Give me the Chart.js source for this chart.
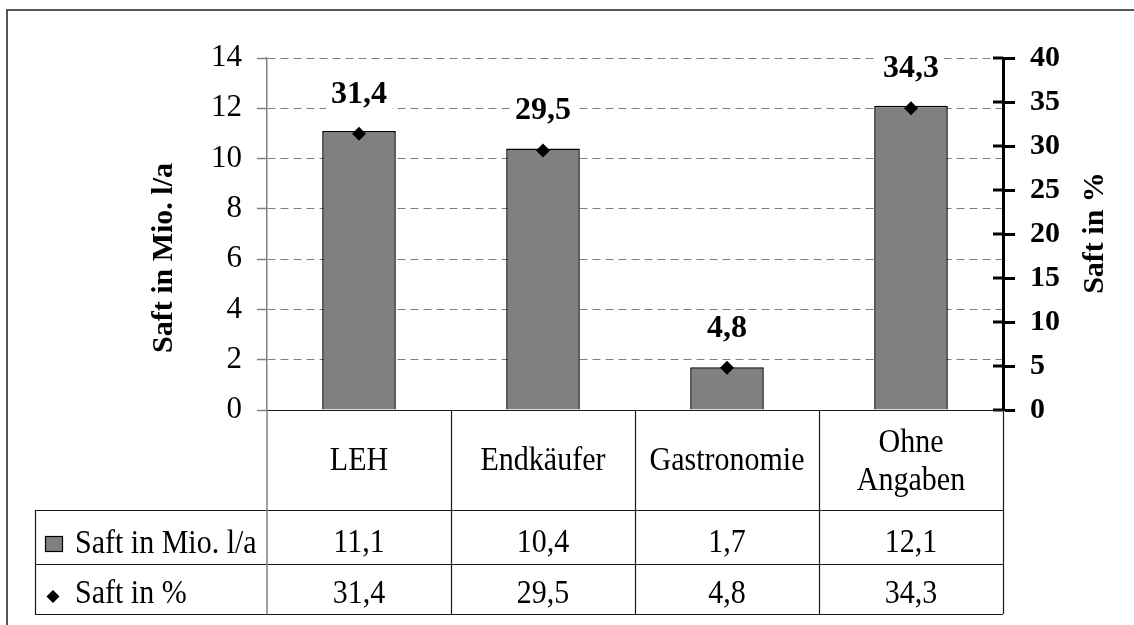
<!DOCTYPE html>
<html><head><meta charset="utf-8">
<script src="https://cdn.jsdelivr.net/npm/chart.js@4.4.1/dist/chart.umd.min.js"></script>
<style>html,body{margin:0;padding:0;background:#fff}canvas{display:block}</style>
</head><body>
<canvas id="c" width="1134" height="625"></canvas>
<script>
const categories = ['LEH', 'Endkäufer', 'Gastronomie', ['Ohne', 'Angaben']];
const volumeValues = [11.1, 10.4, 1.7, 12.1];
const percentValues = [31.4, 29.5, 4.8, 34.3];
const volumeLabels = ['11,1', '10,4', '1,7', '12,1'];
const percentLabels = ['31,4', '29,5', '4,8', '34,3'];
const seriesNames = ['Saft in Mio. l/a', 'Saft in %'];
const leftAxisTitle = 'Saft in Mio. l/a';
const rightAxisTitle = 'Saft in %';
const leftRange = [0, 14, 2];
const rightRange = [0, 40, 5];

const SERIF = '"Liberation Serif", "Times New Roman", serif';
const GRAY = '#808080';

function txt(ctx, s, x, y, font, align, sy) {
  ctx.save();
  ctx.font = font;
  ctx.textAlign = align || 'center';
  ctx.textBaseline = 'alphabetic';
  ctx.fillStyle = '#000';
  ctx.translate(x, y);
  ctx.scale(1, sy || 1);
  ctx.fillText(s, 0, 0);
  ctx.restore();
}

const deco = {
  id: 'deco',
  afterDatasetsDraw(chart) {
    const ctx = chart.ctx;
    const meta = chart.getDatasetMeta(1);
    meta.data.forEach((pt, i) => {
      const s = percentLabels[i];
      ctx.save();
      ctx.font = 'bold 32px ' + SERIF;
      const w = ctx.measureText(s).width;
      ctx.fillStyle = '#fff';
      ctx.fillRect(pt.x - w / 2 - 5, pt.y - 56, w + 10, 32);
      ctx.restore();
      txt(ctx, s, pt.x, pt.y - 31, 'bold 32px ' + SERIF, 'center', 1);
    });
  },
  afterDraw(chart) {
    const ctx = chart.ctx;
    const ca = chart.chartArea;
    const xs = chart.scales.x;
    const y1 = chart.scales.y1;
    const n = categories.length;
    const cw = (ca.right - ca.left) / n;
    const bounds = [ca.left];
    for (let i = 0; i < n; i++) bounds.push(xs.getPixelForValue(i) + cw / 2);
    const hdrBottom = 510, r1Bottom = 564, r2Bottom = 614, legLeft = 35;

    // right axis inner ticks
    ctx.save();
    ctx.strokeStyle = '#000';
    ctx.lineWidth = 3;
    y1.ticks.forEach(t => {
      const yy = Math.round(y1.getPixelForValue(t.value));
      ctx.beginPath();
      ctx.moveTo(ca.right - 10, yy);
      ctx.lineTo(ca.right, yy);
      ctx.stroke();
    });
    ctx.restore();

    // table lines
    ctx.save();
    ctx.lineWidth = 1.2;
    ctx.strokeStyle = '#1a1a1a';
    ctx.beginPath();
    ctx.moveTo(ca.left, ca.bottom + 0.5); ctx.lineTo(ca.right, ca.bottom + 0.5);
    [hdrBottom, r1Bottom, r2Bottom].forEach(yy => {
      ctx.moveTo(legLeft, yy + 0.5); ctx.lineTo(ca.right, yy + 0.5);
    });
    ctx.moveTo(legLeft + 0.5, hdrBottom); ctx.lineTo(legLeft + 0.5, r2Bottom);
    bounds.slice(1).forEach(bx => {
      ctx.moveTo(Math.round(bx) + 0.5, ca.bottom); ctx.lineTo(Math.round(bx) + 0.5, r2Bottom);
    });
    ctx.stroke();
    ctx.strokeStyle = GRAY;
    ctx.lineWidth = 1.5;
    ctx.beginPath();
    ctx.moveTo(ca.left, ca.bottom); ctx.lineTo(ca.left, r2Bottom + 0.5);
    ctx.stroke();
    ctx.restore();

    // table texts
    const nf = '30px ' + SERIF;
    categories.forEach((c, i) => {
      const cx = (bounds[i] + bounds[i + 1]) / 2;
      if (Array.isArray(c)) {
        txt(ctx, c[0], cx, 452, nf, 'center', 1.1);
        txt(ctx, c[1], cx, 490, nf, 'center', 1.1);
      } else {
        txt(ctx, c, cx, 469.5, nf, 'center', 1.1);
      }
      txt(ctx, volumeLabels[i], cx, 552, nf, 'center', 1.1);
      txt(ctx, percentLabels[i], cx, 603, nf, 'center', 1.1);
    });
    // legend keys
    ctx.save();
    ctx.fillStyle = GRAY;
    ctx.strokeStyle = '#000';
    ctx.lineWidth = 1.2;
    ctx.fillRect(45, 536, 18, 16);
    ctx.strokeRect(45.5, 536.5, 17, 15);
    ctx.fillStyle = '#000';
    ctx.beginPath();
    ctx.moveTo(53, 590); ctx.lineTo(59.5, 596.5); ctx.lineTo(53, 603); ctx.lineTo(46.5, 596.5);
    ctx.closePath(); ctx.fill();
    ctx.restore();
    txt(ctx, seriesNames[0], 75, 553, nf, 'left', 1.1);
    txt(ctx, seriesNames[1], 75, 603, nf, 'left', 1.1);

    // axis titles
    const bf = 'bold 30px ' + SERIF;
    ctx.save();
    ctx.translate(172, 258); ctx.rotate(-Math.PI / 2);
    txt(ctx, leftAxisTitle, 0, 0, bf, 'center', 1);
    ctx.restore();
    ctx.save();
    ctx.translate(1103, 233); ctx.rotate(-Math.PI / 2);
    txt(ctx, rightAxisTitle, 0, 0, bf, 'center', 1);
    ctx.restore();

    // outer frame
    ctx.save();
    ctx.strokeStyle = '#222';
    ctx.lineWidth = 1.5;
    ctx.strokeRect(7, 10, 1200, 700);
    ctx.restore();
  }
};

new Chart(document.getElementById('c'), {
  data: {
    labels: categories,
    datasets: [
      {
        type: 'bar', label: seriesNames[0], data: volumeValues, yAxisID: 'y',
        backgroundColor: GRAY, borderColor: '#000', borderWidth: 1.5,
        barPercentage: 0.4, categoryPercentage: 1.0, order: 2
      },
      {
        type: 'line', label: seriesNames[1], data: percentValues, yAxisID: 'y1',
        showLine: false, pointStyle: 'rectRot', pointRadius: 7,
        pointBackgroundColor: '#000', pointBorderColor: '#000', pointBorderWidth: 0, order: 1
      }
    ]
  },
  options: {
    responsive: false,
    animation: false,
    events: [],
    layout: { padding: { left: 0, right: 0, top: 58, bottom: 215 } },
    plugins: { legend: { display: false }, tooltip: { enabled: false } },
    scales: {
      x: { display: false, offset: true },
      y: {
        position: 'left', min: leftRange[0], max: leftRange[1],
        ticks: { stepSize: leftRange[2], color: '#000', padding: 15, font: { family: SERIF, size: 31 } },
        grid: {
          color: c => (c.tick && c.tick.value === 0) ? 'rgba(0,0,0,0)' : GRAY,
          lineWidth: 1, tickLength: 10, tickColor: GRAY, tickWidth: 1.5
        },
        border: { color: GRAY, width: 1.5, dash: [8, 5] },
        afterFit: s => { s.width = 267; }
      },
      y1: {
        position: 'right', min: rightRange[0], max: rightRange[1],
        ticks: { stepSize: rightRange[2], color: '#000', padding: 15, font: { family: SERIF, size: 30, weight: 'bold' } },
        grid: { drawOnChartArea: false, tickLength: 12, tickWidth: 3, tickColor: '#000' },
        border: { color: '#000', width: 3 },
        afterFit: s => { s.width = 131; }
      }
    }
  },
  plugins: [deco]
});
</script>
</body></html>
